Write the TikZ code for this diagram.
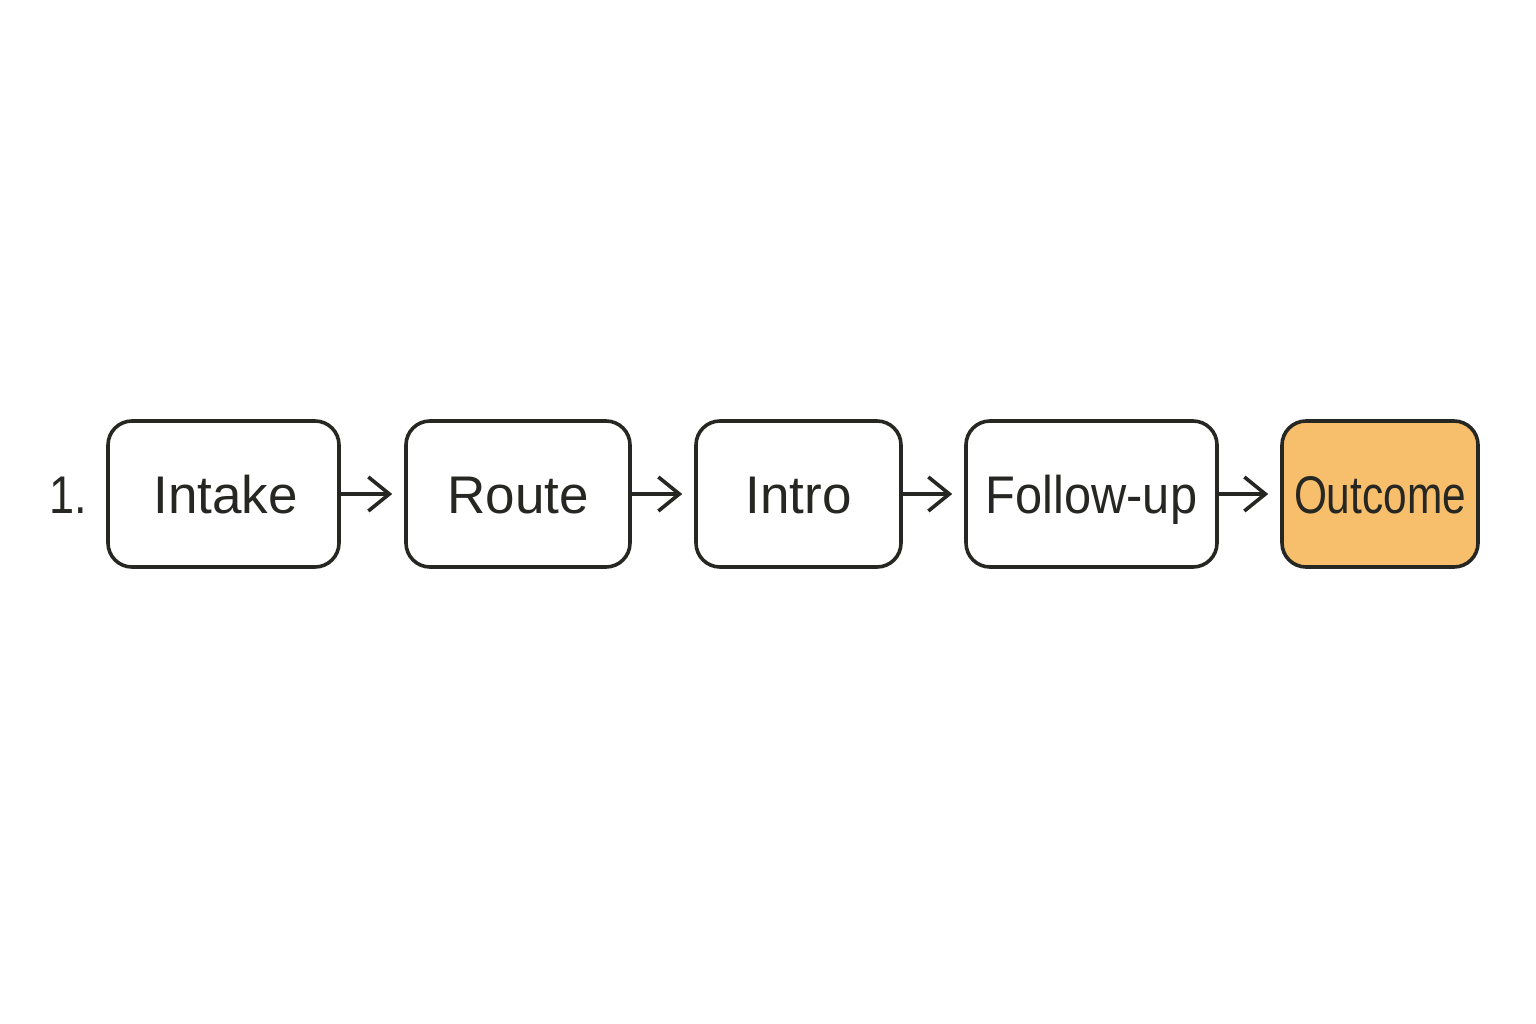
\documentclass[tikz,border=0pt]{standalone}
\usepackage{fontspec}
\setmainfont{Liberation Sans}
\usetikzlibrary{arrows.meta}
\definecolor{ink}{HTML}{262622}
\definecolor{orangefill}{HTML}{F7BE6B}
\tikzset{
  stepbox/.style={draw=ink, line width=3.6pt, rounded corners=24pt, fill=white,
    minimum height=146pt, inner sep=0pt, text=ink, text height=38pt, text depth=0pt,
    font=\fontsize{53}{60}\selectfont},
  flow/.style={draw=ink, line width=3.6pt, shorten >=12pt,
    -{Straight Barb[length=21pt,width=34pt,line width=3.6pt]}},
}
\begin{document}
\begin{tikzpicture}[x=1pt,y=-1pt]
\useasboundingbox (0,0) rectangle (1536,1024);
\node[text=ink, font=\fontsize{53}{60}\selectfont, text height=38pt, text depth=0pt, inner sep=0pt] (num) at (68,494) {\scalebox{0.85}[1]{1.}};
\node[stepbox, minimum width=231pt] (intake) at (223.5,494) {\hspace*{4pt}Intake};
\node[stepbox, minimum width=224pt] (route) at (518,494) {Route};
\node[stepbox, minimum width=205pt] (intro) at (798.5,494) {Intro};
\node[stepbox, minimum width=251pt] (follow) at (1091.5,494) {\scalebox{0.92}[1]{Follow-up}};
\node[stepbox, minimum width=196pt, fill=orangefill] (outcome) at (1380,494) {\scalebox{0.8}[1]{Outcome}};
\draw[flow] (intake.east) -- (route.west);
\draw[flow] (route.east) -- (intro.west);
\draw[flow] (intro.east) -- (follow.west);
\draw[flow] (follow.east) -- (outcome.west);
\end{tikzpicture}
\end{document}
